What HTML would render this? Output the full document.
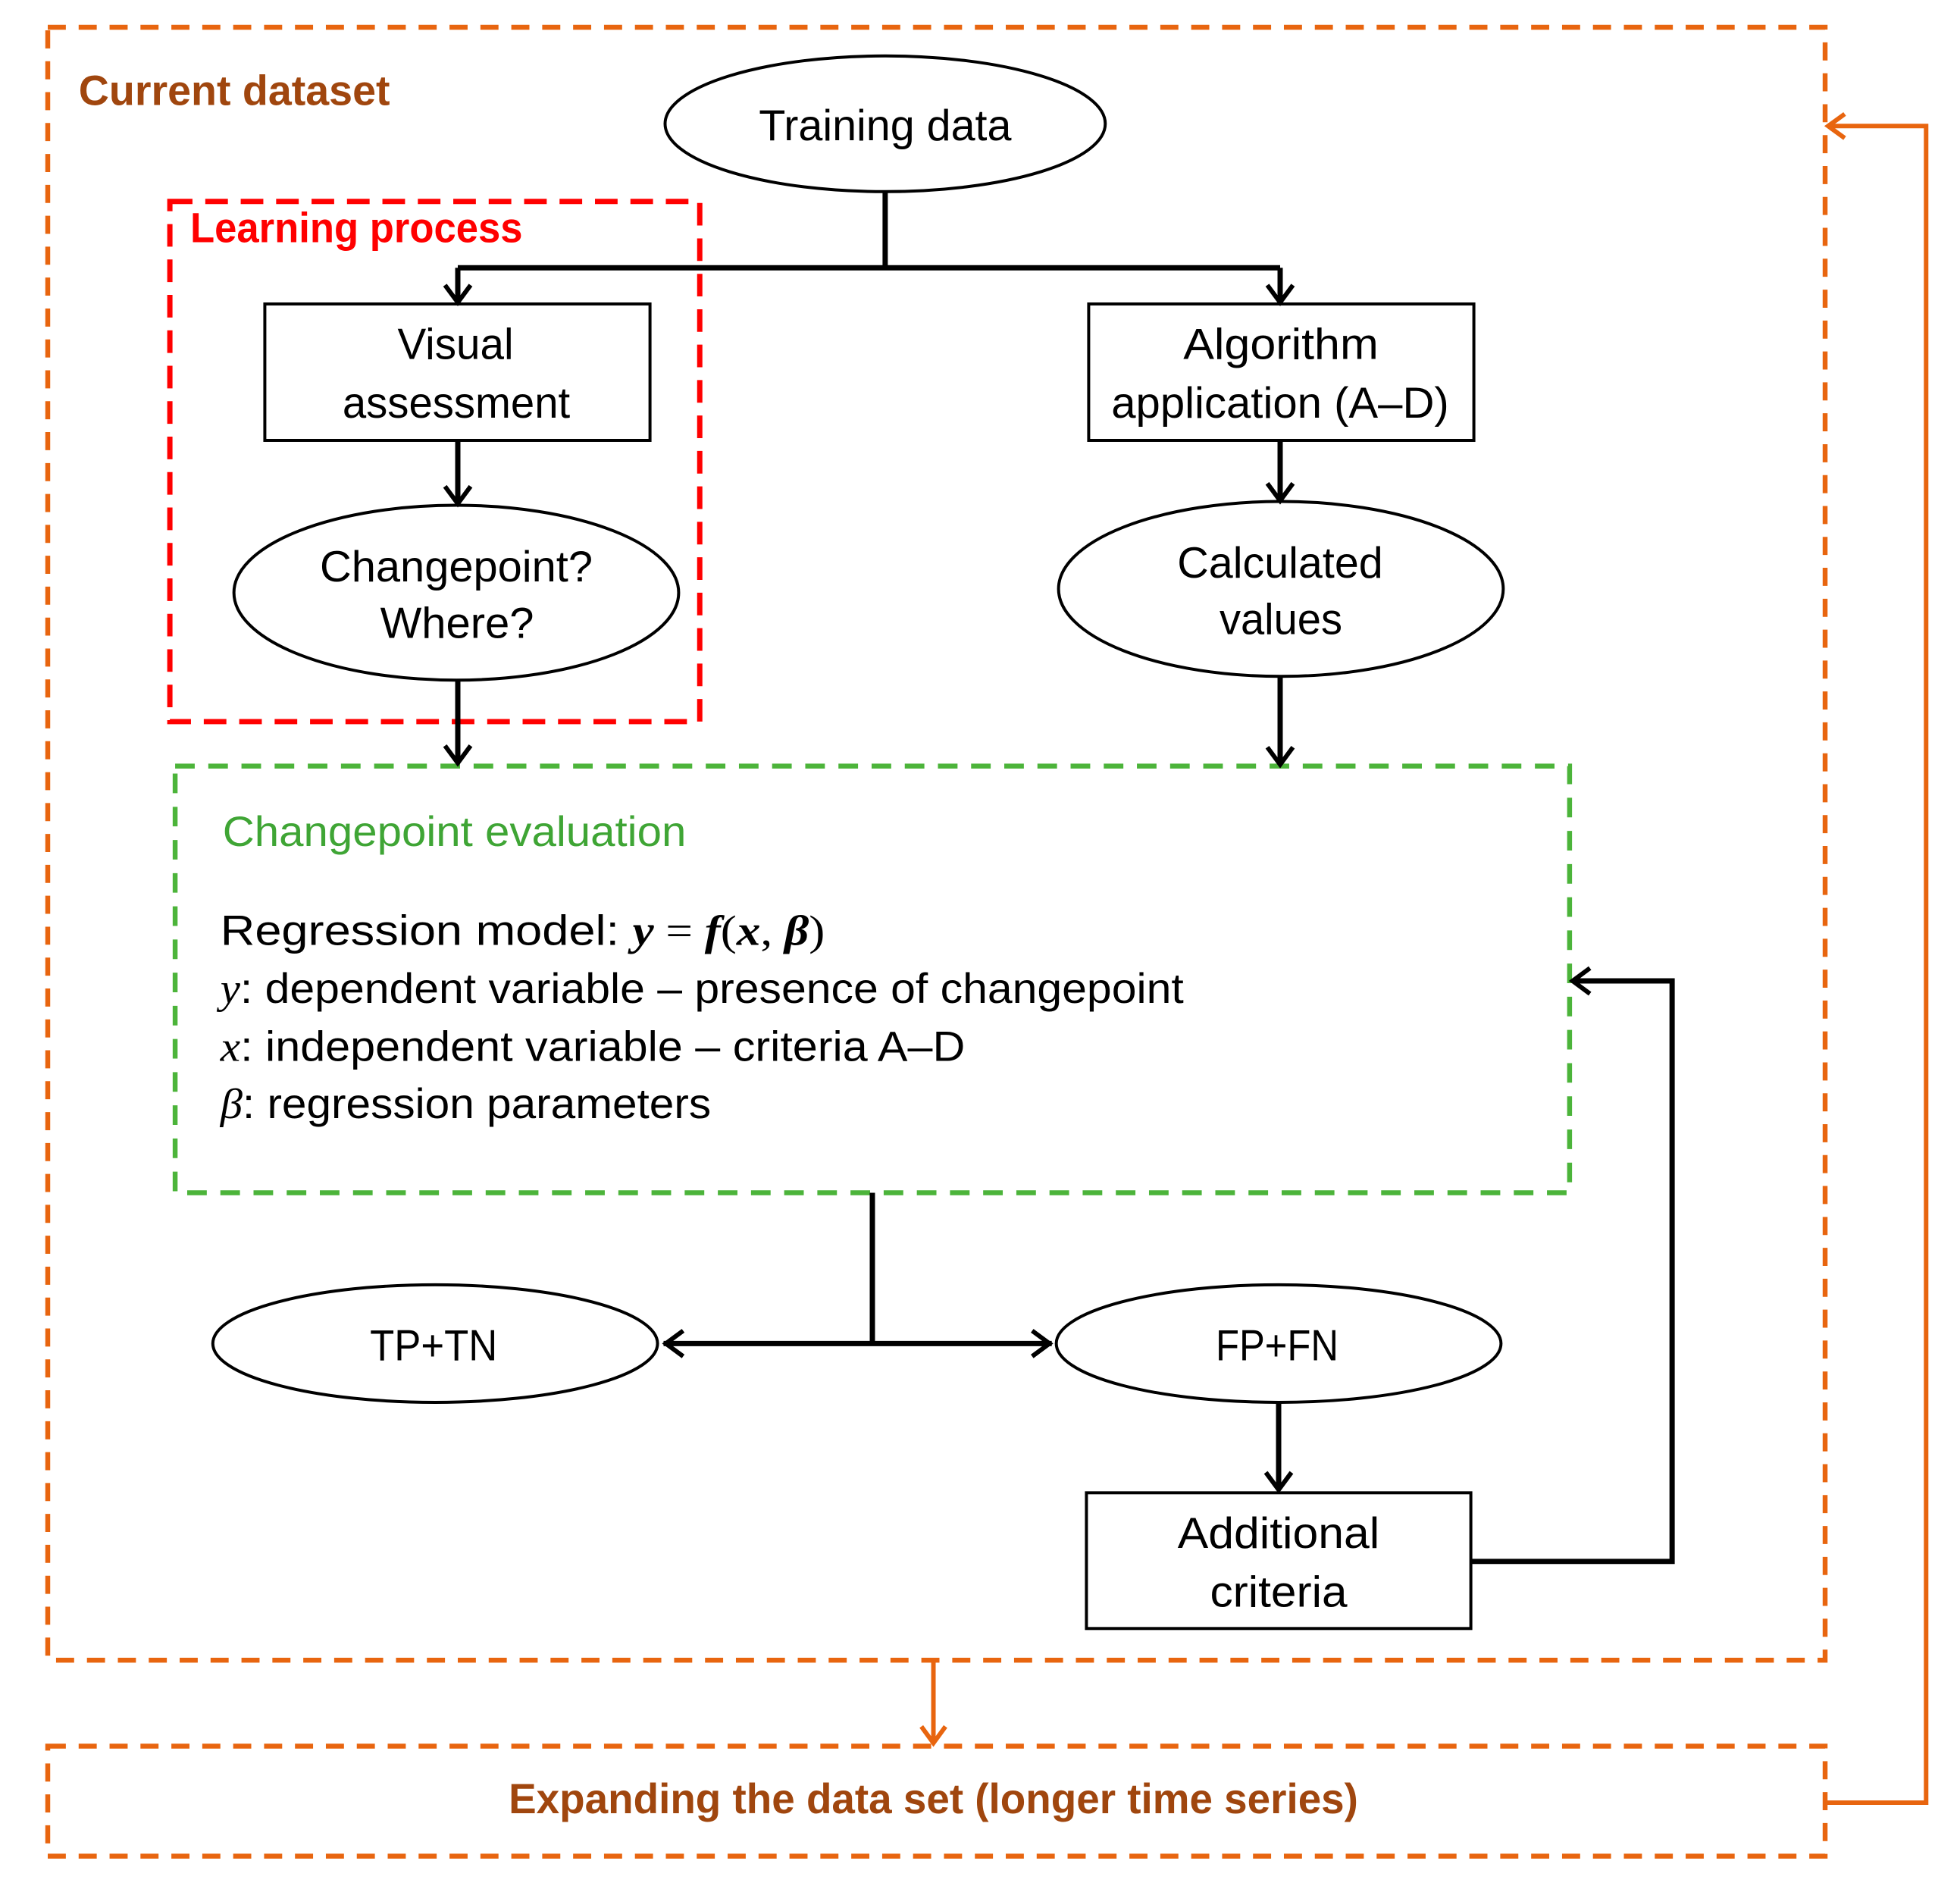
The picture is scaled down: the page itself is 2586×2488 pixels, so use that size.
<!DOCTYPE html>
<html><head><meta charset="utf-8"><style>
html,body{margin:0;padding:0;background:#fff}
svg{display:block}
text{font-family:"Liberation Sans Narrow","Liberation Sans",sans-serif}
</style></head><body>
<svg width="2586" height="2488" viewBox="0 0 2586 2488" xmlns="http://www.w3.org/2000/svg">
<g transform="translate(63 36) scale(0.9945) translate(-63 -36)">
<g fill="none" stroke-linecap="butt">
<rect x="63" y="36" width="2358" height="2166" stroke="#e8650f" stroke-width="6.5" stroke-dasharray="24 17"/>
<rect x="63" y="2316" width="2358" height="146" stroke="#e8650f" stroke-width="6.5" stroke-dasharray="24 17"/>
<rect x="225" y="267" width="703" height="690" stroke="#ff0000" stroke-width="7" stroke-dasharray="30 17"/>
<rect x="232" y="1016" width="1850" height="566" stroke="#4cb43a" stroke-width="6.5" stroke-dasharray="26 18"/>
</g>
<g fill="#fff" stroke="#000" stroke-width="4">
<ellipse cx="1174" cy="164" rx="292" ry="90"/>
<rect x="351" y="403" width="511" height="181"/>
<rect x="1444" y="403" width="511" height="181"/>
<ellipse cx="605" cy="786" rx="295" ry="116"/>
<ellipse cx="1699" cy="781" rx="295" ry="116"/>
<ellipse cx="577" cy="1782" rx="295" ry="78"/>
<ellipse cx="1696" cy="1782" rx="295" ry="78"/>
<rect x="1441" y="1980" width="510" height="180"/>
</g>
<g fill="none" stroke="#000" stroke-width="7">
<path d="M1174 254 V355 M607 355 H1698 M607 355 V401 M1698 355 V401"/>
<path d="M607 584 V668 M1698 584 V664 M607 902 V1012 M1698 897 V1014"/>
<path d="M1157 1582 V1782 M880 1782 H1395 M1696 1860 V1976"/>
<path d="M1951 2071 H2218 V1301 H2088"/>
</g>
<g fill="none" stroke="#000" stroke-width="6" stroke-linejoin="miter">
<path d="M590 378 L607 401 L624 378"/>
<path d="M1681 378 L1698 401 L1715 378"/>
<path d="M590 645 L607 668 L624 645"/>
<path d="M1681 641 L1698 664 L1715 641"/>
<path d="M590 989 L607 1012 L624 989"/>
<path d="M1681 991 L1698 1014 L1715 991"/>
<path d="M1679 1953 L1696 1976 L1713 1953"/>
<path d="M906 1765 L883 1782 L906 1799"/>
<path d="M1369 1765 L1392 1782 L1369 1799"/>
<path d="M2109 1284 L2086 1301 L2109 1318"/>
</g>
<g fill="none" stroke="#e8650f" stroke-width="6">
<path d="M1238 2202 V2312"/>
<path d="M1222 2290 L1238 2312 L1254 2290"/>
<path d="M2421 2391 H2555 V167 H2425"/>
<path d="M2447 151 L2425 167 L2447 183"/>
</g>
<g font-size="58" fill="#000" text-anchor="middle">
<text x="1174" y="186" textLength="335" lengthAdjust="spacingAndGlyphs">Training data</text>
<text x="604" y="476" textLength="154" lengthAdjust="spacingAndGlyphs">Visual</text>
<text x="605" y="554" textLength="302" lengthAdjust="spacingAndGlyphs">assessment</text>
<text x="1699" y="476" textLength="259" lengthAdjust="spacingAndGlyphs">Algorithm</text>
<text x="1698" y="554" textLength="448" lengthAdjust="spacingAndGlyphs">application (A–D)</text>
<text x="605" y="771" textLength="362" lengthAdjust="spacingAndGlyphs">Changepoint?</text>
<text x="606" y="846" textLength="204" lengthAdjust="spacingAndGlyphs">Where?</text>
<text x="1698" y="766" textLength="273" lengthAdjust="spacingAndGlyphs">Calculated</text>
<text x="1699" y="841" textLength="163" lengthAdjust="spacingAndGlyphs">values</text>
<text x="575" y="1804" textLength="169" lengthAdjust="spacingAndGlyphs">TP+TN</text>
<text x="1694" y="1804" textLength="163" lengthAdjust="spacingAndGlyphs">FP+FN</text>
<text x="1696" y="2053" textLength="268" lengthAdjust="spacingAndGlyphs">Additional</text>
<text x="1696" y="2131" textLength="182" lengthAdjust="spacingAndGlyphs">criteria</text>
</g>
<g font-size="56" font-weight="bold">
<text x="104" y="139" fill="#a0460e" textLength="413" lengthAdjust="spacingAndGlyphs">Current dataset</text>
<text x="252" y="321" fill="#ff0000" textLength="441" lengthAdjust="spacingAndGlyphs">Learning process</text>
<text x="1238" y="2405" fill="#a0460e" text-anchor="middle" textLength="1127" lengthAdjust="spacingAndGlyphs">Expanding the data set (longer time series)</text>
</g>
<text x="295" y="1122" font-size="56" fill="#3fa535" textLength="615" lengthAdjust="spacingAndGlyphs">Changepoint evaluation</text>
<g font-size="56" fill="#000">
<text x="292" y="1253" textLength="802" lengthAdjust="spacingAndGlyphs">Regression model: <tspan font-family="Liberation Serif" font-style="italic" font-weight="bold">y</tspan><tspan font-family="Liberation Serif"> = </tspan><tspan font-family="Liberation Serif" font-style="italic" font-weight="bold">f</tspan><tspan font-family="Liberation Serif">(</tspan><tspan font-family="Liberation Serif" font-style="italic" font-weight="bold">x</tspan><tspan font-family="Liberation Serif">, </tspan><tspan font-family="Liberation Serif" font-style="italic" font-weight="bold">β</tspan><tspan font-family="Liberation Serif">)</tspan></text>
<text x="292" y="1330" textLength="1278" lengthAdjust="spacingAndGlyphs"><tspan font-family="Liberation Serif" font-style="italic">y</tspan>: dependent variable – presence of changepoint</text>
<text x="292" y="1407" textLength="988" lengthAdjust="spacingAndGlyphs"><tspan font-family="Liberation Serif" font-style="italic">x</tspan>: independent variable – criteria A–D</text>
<text x="292" y="1483" textLength="651" lengthAdjust="spacingAndGlyphs"><tspan font-family="Liberation Serif" font-style="italic">β</tspan>: regression parameters</text>
</g>
</g>
</svg>
</body></html>
